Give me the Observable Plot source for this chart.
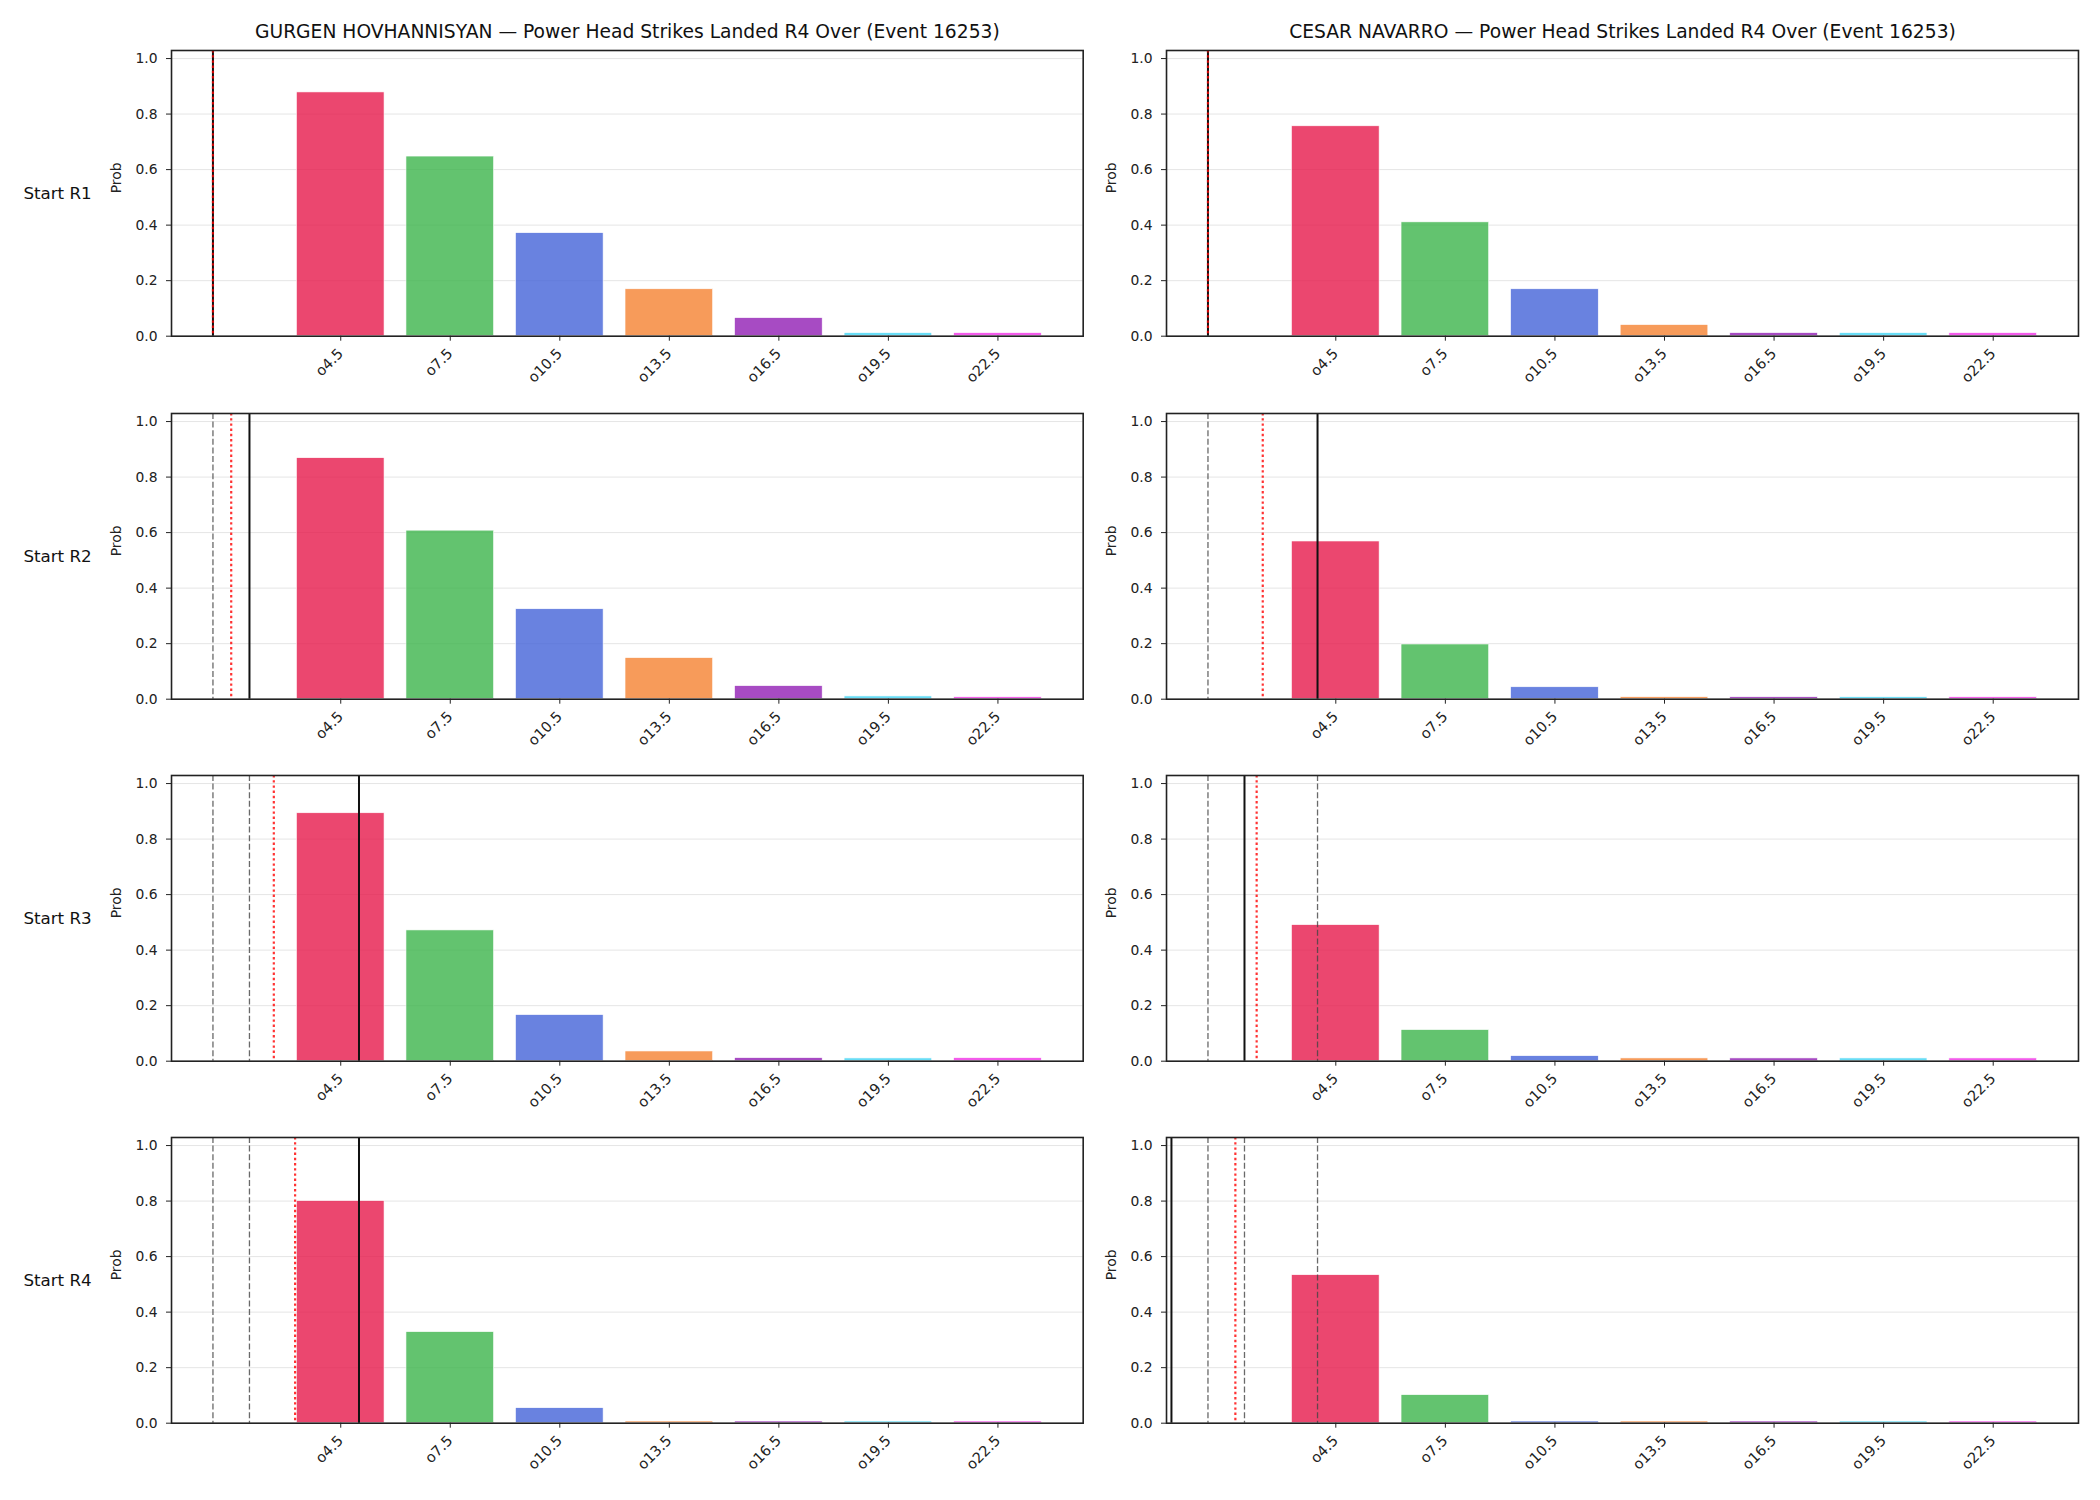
<!DOCTYPE html>
<html>
<head>
<meta charset="utf-8">
<script src="https://cdn.jsdelivr.net/npm/d3@7"></script>
<script src="https://cdn.jsdelivr.net/npm/@observablehq/plot@0.6"></script>
<style>
  html, body { margin: 0; padding: 0; background: #fff; }
  body { width: 2100px; height: 1500px; position: relative; overflow: hidden; font-family: "DejaVu Sans", sans-serif; }
  .panel { position: absolute; }
</style>
</head>
<body>
<div id="root"></div>
<script>
// ---- data ----
const thresholds = [4.5, 7.5, 10.5, 13.5, 16.5, 19.5, 22.5];
const tickLabels = ["o4.5", "o7.5", "o10.5", "o13.5", "o16.5", "o19.5", "o22.5"];
const barColors = ["#e6194b", "#3cb44b", "#4363d8", "#f58231", "#911eb4", "#42d4f4", "#f032e6"];
const rounds = ["Start R1", "Start R2", "Start R3", "Start R4"];
const yTicks = [0, 0.2, 0.4, 0.6, 0.8, 1.0];

const gurgenTitle = "GURGEN HOVHANNISYAN — Power Head Strikes Landed R4 Over (Event 16253)";
const gurgenProbs = [
  [0.878, 0.647, 0.371, 0.169, 0.065, 0.011, 0.011],
  [0.868, 0.607, 0.324, 0.148, 0.047, 0.010, 0.007],
  [0.893, 0.471, 0.166, 0.035, 0.011, 0.010, 0.011],
  [0.800, 0.328, 0.054, 0.006, 0.006, 0.006, 0.006]
];
const gurgenCurrent = [1, 2, 5, 5];
const gurgenPrevious = [[], [1], [1, 2], [1, 2, 5]];
const gurgenMean = [1, 1.5, 2.667, 3.25];

const cesarTitle = "CESAR NAVARRO — Power Head Strikes Landed R4 Over (Event 16253)";
const cesarProbs = [
  [0.756, 0.410, 0.169, 0.040, 0.011, 0.011, 0.011],
  [0.568, 0.197, 0.043, 0.007, 0.007, 0.007, 0.007],
  [0.490, 0.112, 0.018, 0.010, 0.010, 0.010, 0.010],
  [0.533, 0.101, 0.006, 0.006, 0.006, 0.006, 0.006]
];
const cesarCurrent = [1, 4, 2, 0];
const cesarPrevious = [[], [1], [1, 4], [1, 4, 2]];
const cesarMean = [1, 2.5, 2.333, 1.75];

// ---- layout ----
const frameTops = [50, 412.7, 775, 1137.3];
const frameH = 285.7;
const columns = [
  {left: 0, width: 1100, frameL: 171, frameR: 1082.7, title: gurgenTitle, probs: gurgenProbs, cur: gurgenCurrent, prev: gurgenPrevious, mean: gurgenMean, rowLabels: true},
  {left: 1100, width: 1000, frameL: 1166, frameR: 2078, title: cesarTitle, probs: cesarProbs, cur: cesarCurrent, prev: cesarPrevious, mean: cesarMean, rowLabels: false}
];
const FONT = "DejaVu Sans";
const root = document.getElementById("root");

columns.forEach((col) => {
  rounds.forEach((roundLabel, r) => {
    const top = r === 0 ? 0 : frameTops[r] - 25;
    const marginTop = frameTops[r] - top;
    const marginBottom = 56;
    const height = marginTop + frameH + marginBottom;
    const marginLeft = col.frameL - col.left;
    const marginRight = col.left + col.width - col.frameR;

    const bars = thresholds.map((t, i) => ({t, label: tickLabels[i], p: col.probs[r][i], color: barColors[i]}));

    const marks = [
      Plot.gridY(yTicks.slice(1), {stroke: "#e5e5e5", strokeOpacity: 1, strokeWidth: 1}),
      Plot.rectY(bars, {x1: d => d.t - 1.2, x2: d => d.t + 1.2, y1: 0, y2: "p", fill: "color", fillOpacity: 0.8, stroke: "white", strokeWidth: 0.6}),
      Plot.ruleX(col.prev[r], {stroke: "#444", strokeOpacity: 0.8, strokeWidth: 1.3, strokeDasharray: "6,2.6"}),
      Plot.ruleX([col.cur[r]], {stroke: "#111", strokeWidth: 2}),
      Plot.ruleX([col.mean[r]], {stroke: "red", strokeOpacity: 0.8, strokeWidth: 2.2, strokeDasharray: "2.4,2.8"}),
      Plot.frame({stroke: "#222", strokeWidth: 1.6}),
      Plot.axisY({ticks: yTicks, tickFormat: d3.format(".1f"), tickSize: 5, tickPadding: 9, label: null, fontSize: 13.9, stroke: "#222"}),
      Plot.axisX({ticks: thresholds, tickFormat: d => tickLabels[thresholds.indexOf(d)], tickRotate: -45, tickSize: 5, tickPadding: 10, label: null, fontSize: 14.5, stroke: "#222"}),
      Plot.text(["Prob"], {text: d => d, frameAnchor: "left", dx: -54.5, rotate: -90, fontSize: 13.9, fill: "#222"})
    ];
    if (col.rowLabels) {
      marks.push(Plot.text([roundLabel], {text: d => d, frameAnchor: "left", dx: -114, textAnchor: "middle", fontSize: 16.7, fill: "#111"}));
    }
    if (r === 0) {
      marks.push(Plot.text([col.title], {text: d => d, frameAnchor: "top", dy: -26, fontSize: 18.7, fill: "#111"}));
    }

    const svg = Plot.plot({
      width: col.width,
      height,
      marginTop, marginBottom, marginLeft, marginRight,
      style: {fontFamily: FONT, fontSize: "13.9px", color: "#222", background: "transparent", overflow: "visible"},
      x: {domain: [-0.135, 24.835]},
      y: {domain: [0, 1.029]},
      color: {type: "identity"},
      marks
    });
    const wrap = document.createElement("div");
    wrap.className = "panel";
    wrap.style.left = col.left + "px";
    wrap.style.top = top + "px";
    wrap.appendChild(svg);
    root.appendChild(wrap);
  });
});
</script>
</body>
</html>
